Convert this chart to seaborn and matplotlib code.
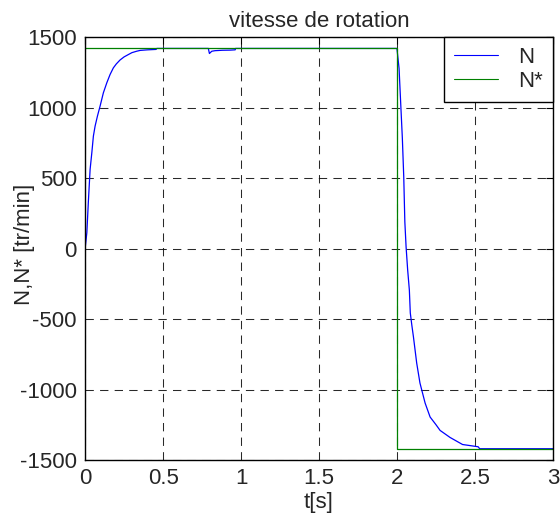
import numpy as np
import pandas as pd
import matplotlib
matplotlib.use("Agg")
import matplotlib.pyplot as plt
import seaborn as sns

# ---- data ----
t_N = [0, 0.011, 0.021, 0.032, 0.043, 0.053, 0.064, 0.079, 0.096, 0.117, 0.139,
       0.16, 0.181, 0.2, 0.224, 0.25, 0.278, 0.3, 0.33, 0.353, 0.4, 0.455, 0.46,
       0.79, 0.797, 0.812, 0.833, 0.88, 0.93, 0.962, 0.965,
       1.998, 2.0, 2.013, 2.024, 2.034, 2.043, 2.05, 2.058, 2.068, 2.079, 2.085,
       2.095, 2.105, 2.126, 2.147, 2.18, 2.212, 2.25, 2.276, 2.34, 2.42, 2.52,
       2.53, 3.0]
N = [0, 112, 337, 562, 680, 798, 869, 940, 1011, 1105, 1176,
     1235, 1282, 1310, 1338, 1360, 1377, 1390, 1400, 1406, 1410, 1413, 1420,
     1420, 1384, 1400, 1404, 1407, 1408, 1410, 1420,
     1420, 1413, 1278, 1018, 784, 509, 190, 12, -150, -295, -457,
     -545, -625, -812, -954, -1096, -1195, -1250, -1290, -1340, -1390, -1406,
     -1420, -1420]
t_ref = [0, 2.0, 2.0, 3.0]
N_ref = [1420, 1420, -1420, -1420]

x_ticks = [0, 0.5, 1, 1.5, 2, 2.5, 3]
y_ticks = [-1500, -1000, -500, 0, 500, 1000, 1500]

sns.set_style("white")
plt.rcParams['font.family'] = ['Liberation Sans', 'DejaVu Sans']
plt.rcParams['xtick.direction'] = 'in'
plt.rcParams['ytick.direction'] = 'in'

fig = plt.figure(figsize=(5.6, 5.16), dpi=100)
ax = fig.add_axes([0.152, 0.1085, 0.8355, 0.8195])

df_N = pd.DataFrame({"t": t_N, "v": N})
df_R = pd.DataFrame({"t": t_ref, "v": N_ref})
sns.lineplot(data=df_N, x="t", y="v", ax=ax, color="#0000ff", lw=0.9,
             estimator=None, sort=False, label="N")
sns.lineplot(data=df_R, x="t", y="v", ax=ax, color="#008000", lw=0.9,
             estimator=None, sort=False, label="N*")

ax.set_xlim(0, 3)
ax.set_ylim(-1500, 1500)
ax.set_xticks(x_ticks)
ax.set_xticklabels([f"{v:g}" for v in x_ticks])
ax.set_yticks(y_ticks)
ax.set_yticklabels([f"{v:g}" for v in y_ticks])
ax.tick_params(axis='both', labelsize=16, length=5, width=0.8,
               top=True, right=True, color='black')
ax.tick_params(axis='y', pad=6)
ax.tick_params(axis='x', pad=6)
ax.grid(True, color='#111111', linestyle=(0, (8, 6)), linewidth=0.75, alpha=0.9)
for s in ax.spines.values():
    s.set_color('black')
    s.set_linewidth(1.0)

ax.set_title("vitesse de rotation", fontsize=16, pad=7)
ax.set_xlabel("t[s]", fontsize=16, labelpad=2)
ax.set_ylabel("N,N* [tr/min]", fontsize=16)
ax.yaxis.set_label_coords(-0.107, 0.51)

leg = ax.legend(loc='upper right', fontsize=16, frameon=True, fancybox=False,
                borderaxespad=0, framealpha=1, edgecolor='black',
                handlelength=2.0, borderpad=0.45, labelspacing=0.12,
                handletextpad=0.9)
leg.get_frame().set_linewidth(1.0)
for line in leg.get_lines():
    line.set_linewidth(0.8)

fig.savefig("out.png", dpi=100)
